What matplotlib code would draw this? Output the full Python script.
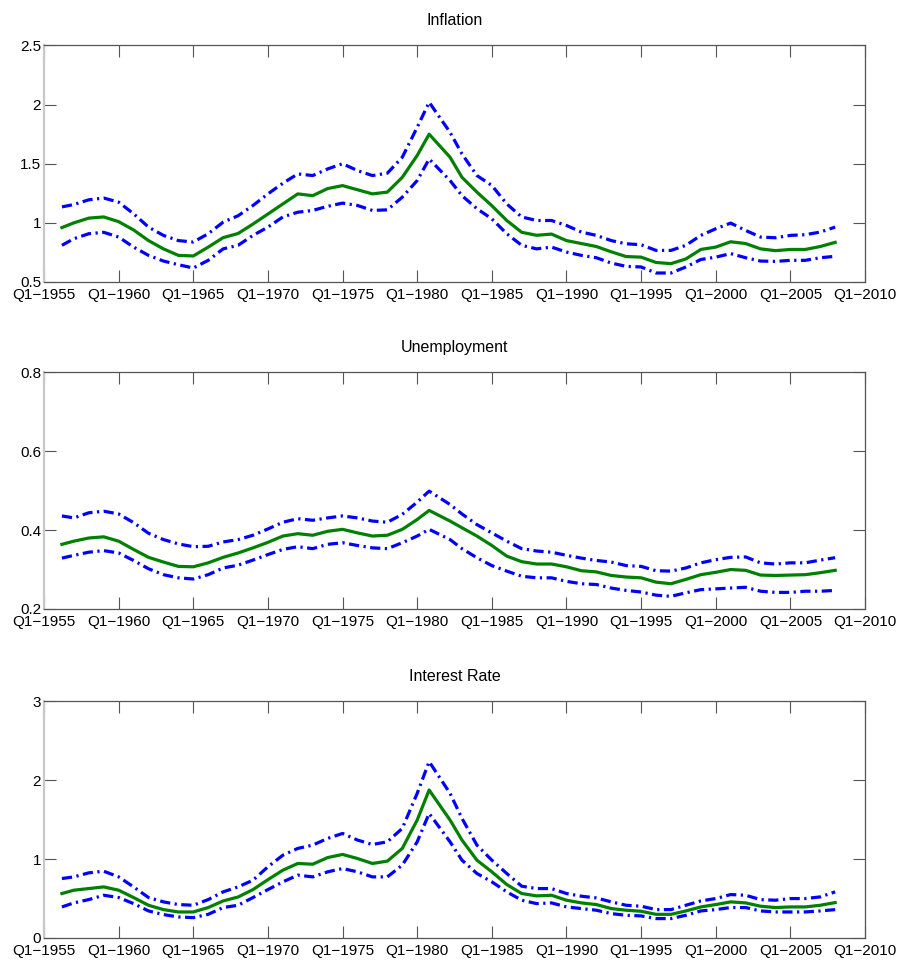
import numpy as np
import matplotlib
matplotlib.use('Agg')
import matplotlib.pyplot as plt

plt.rcParams['font.family'] = ['Liberation Sans', 'DejaVu Sans']

# time axis (fractional years)
years = [1956.2, 1957, 1958, 1959, 1960, 1961, 1962, 1963, 1964, 1965, 1966,
         1967, 1968, 1969, 1970, 1971, 1972, 1973, 1974, 1975, 1976, 1977,
         1978, 1979, 1980, 1980.8, 1982.2, 1983, 1984, 1985, 1986, 1987,
         1988, 1989, 1990, 1991, 1992, 1993, 1994, 1995, 1996, 1997, 1998,
         1999, 2000, 2001, 2002, 2003, 2004, 2005, 2006, 2007, 2008]

infl_med = [0.96, 1.00, 1.04, 1.05, 1.01, 0.94, 0.85, 0.78, 0.725, 0.72, 0.795,
            0.875, 0.91, 0.99, 1.075, 1.16, 1.245, 1.23, 1.29, 1.315, 1.28, 1.245,
            1.26, 1.385, 1.57, 1.75, 1.555, 1.385, 1.26, 1.145, 1.02, 0.92,
            0.895, 0.905, 0.85, 0.825, 0.80, 0.755, 0.715, 0.71, 0.665, 0.655, 0.695,
            0.775, 0.795, 0.84, 0.825, 0.78, 0.765, 0.775, 0.775, 0.80, 0.835]
infl_up = [1.135, 1.155, 1.195, 1.21, 1.175, 1.077, 0.964, 0.894, 0.85, 0.838, 0.908,
           1.006, 1.06, 1.147, 1.245, 1.335, 1.414, 1.40, 1.456, 1.50, 1.442, 1.40,
           1.42, 1.555, 1.808, 2.02, 1.766, 1.583, 1.40, 1.316, 1.16, 1.05,
           1.02, 1.02, 0.978, 0.922, 0.894, 0.85, 0.823, 0.815, 0.767, 0.767, 0.81,
           0.894, 0.95, 0.998, 0.936, 0.88, 0.874, 0.894, 0.90, 0.922, 0.964]
infl_lo = [0.81, 0.866, 0.908, 0.92, 0.88, 0.795, 0.725, 0.677, 0.646, 0.618, 0.683,
           0.78, 0.81, 0.894, 0.964, 1.05, 1.09, 1.105, 1.14, 1.167, 1.147, 1.105,
           1.11, 1.217, 1.358, 1.54, 1.358, 1.23, 1.12, 1.034, 0.908, 0.81,
           0.78, 0.795, 0.753, 0.725, 0.705, 0.66, 0.632, 0.627, 0.576, 0.576, 0.627,
           0.69, 0.71, 0.74, 0.705, 0.677, 0.674, 0.683, 0.683, 0.705, 0.717]

unemp_med = [0.364, 0.372, 0.38, 0.383, 0.372, 0.351, 0.331, 0.319, 0.308, 0.307, 0.317,
             0.331, 0.342, 0.355, 0.369, 0.385, 0.391, 0.387, 0.397, 0.402, 0.393, 0.385,
             0.387, 0.402, 0.427, 0.45, 0.423, 0.406, 0.385, 0.361, 0.334, 0.32,
             0.314, 0.314, 0.307, 0.297, 0.294, 0.285, 0.281, 0.279, 0.268, 0.264, 0.275,
             0.287, 0.293, 0.30, 0.298, 0.286, 0.285, 0.286, 0.287, 0.292, 0.298]
unemp_up = [0.436, 0.431, 0.444, 0.448, 0.441, 0.419, 0.392, 0.376, 0.365, 0.358, 0.359,
            0.37, 0.376, 0.387, 0.403, 0.42, 0.429, 0.425, 0.431, 0.436, 0.431, 0.423,
            0.42, 0.44, 0.471, 0.499, 0.465, 0.441, 0.414, 0.393, 0.372, 0.353,
            0.347, 0.344, 0.336, 0.329, 0.323, 0.319, 0.31, 0.308, 0.297, 0.296, 0.304,
            0.317, 0.325, 0.331, 0.332, 0.317, 0.314, 0.317, 0.317, 0.324, 0.33]
unemp_lo = [0.329, 0.336, 0.344, 0.348, 0.342, 0.323, 0.302, 0.287, 0.279, 0.276, 0.287,
            0.304, 0.311, 0.324, 0.338, 0.351, 0.358, 0.353, 0.364, 0.368, 0.361, 0.355,
            0.353, 0.368, 0.385, 0.402, 0.376, 0.353, 0.33, 0.31, 0.296, 0.283,
            0.279, 0.279, 0.27, 0.264, 0.262, 0.253, 0.247, 0.243, 0.235, 0.232, 0.241,
            0.249, 0.251, 0.253, 0.255, 0.245, 0.242, 0.242, 0.245, 0.245, 0.247]

rate_med = [0.564, 0.606, 0.627, 0.648, 0.606, 0.513, 0.415, 0.36, 0.33, 0.33, 0.386,
            0.47, 0.52, 0.614, 0.74, 0.86, 0.945, 0.936, 1.02, 1.06, 1.008, 0.945,
            0.975, 1.136, 1.496, 1.877, 1.496, 1.242, 0.987, 0.839, 0.678, 0.564,
            0.534, 0.542, 0.479, 0.445, 0.424, 0.373, 0.352, 0.339, 0.30, 0.30, 0.343,
            0.394, 0.424, 0.458, 0.445, 0.403, 0.386, 0.394, 0.394, 0.415, 0.449]
rate_up = [0.754, 0.775, 0.826, 0.847, 0.775, 0.648, 0.513, 0.458, 0.424, 0.415, 0.487,
           0.585, 0.648, 0.733, 0.903, 1.05, 1.136, 1.178, 1.263, 1.326, 1.242, 1.186,
           1.22, 1.39, 1.835, 2.237, 1.835, 1.517, 1.178, 0.987, 0.818, 0.657,
           0.627, 0.627, 0.564, 0.53, 0.508, 0.458, 0.415, 0.403, 0.36, 0.36, 0.415,
           0.47, 0.50, 0.551, 0.542, 0.487, 0.479, 0.50, 0.50, 0.521, 0.585]
rate_lo = [0.394, 0.445, 0.487, 0.542, 0.513, 0.436, 0.343, 0.297, 0.267, 0.258, 0.30,
           0.386, 0.415, 0.513, 0.614, 0.712, 0.797, 0.775, 0.839, 0.881, 0.839, 0.775,
           0.775, 0.924, 1.22, 1.58, 1.22, 0.987, 0.818, 0.712, 0.585, 0.479,
           0.436, 0.445, 0.394, 0.373, 0.352, 0.309, 0.288, 0.28, 0.246, 0.246, 0.288,
           0.343, 0.36, 0.386, 0.386, 0.343, 0.33, 0.33, 0.33, 0.343, 0.36]

xtick_years = list(range(1955, 2011, 5))
xtick_labels = ['Q1\u2212%d' % y for y in xtick_years]

panels = [
    ('Inflation', infl_med, infl_up, infl_lo, (0.5, 2.5), [0.5, 1, 1.5, 2, 2.5], ['0.5', '1', '1.5', '2', '2.5']),
    ('Unemployment', unemp_med, unemp_up, unemp_lo, (0.2, 0.8), [0.2, 0.4, 0.6, 0.8], ['0.2', '0.4', '0.6', '0.8']),
    ('Interest Rate', rate_med, rate_up, rate_lo, (0, 3), [0, 1, 2, 3], ['0', '1', '2', '3']),
]

fig = plt.figure(figsize=(9.02, 9.72), dpi=100)
bottoms = [0.7099, 0.3735, 0.0350]

for (title, med, up, lo, ylim, yt, ytl), b in zip(panels, bottoms):
    ax = fig.add_axes([0.0488, b, 0.9102, 0.2433])
    ax.plot(years, up, color='#0000ff', lw=2.3, dashes=[3.2, 1.4, 0.7, 1.4])
    ax.plot(years, lo, color='#0000ff', lw=2.3, dashes=[3.2, 1.4, 0.7, 1.4])
    ax.plot(years, med, color='#008000', lw=2.3)
    ax.set_xlim(1955, 2010)
    ax.set_ylim(*ylim)
    ax.set_xticks(xtick_years)
    ax.set_xticklabels(xtick_labels)
    ax.set_yticks(yt)
    ax.set_yticklabels(ytl)
    ax.tick_params(direction='in', length=8.5, width=0.8, color='#555555',
                   labelsize=11, pad=4, top=True, right=True)
    ax.tick_params(axis='y', pad=2)
    for s in ['top', 'right', 'bottom']:
        ax.spines[s].set_color('#555555')
        ax.spines[s].set_linewidth(0.9)
    ax.spines['left'].set_color('#c8c8c8')
    ax.spines['left'].set_linewidth(1.6)
    ax.set_title(title, fontsize=11.5, pad=15)

fig.savefig('out.png', dpi=100)
